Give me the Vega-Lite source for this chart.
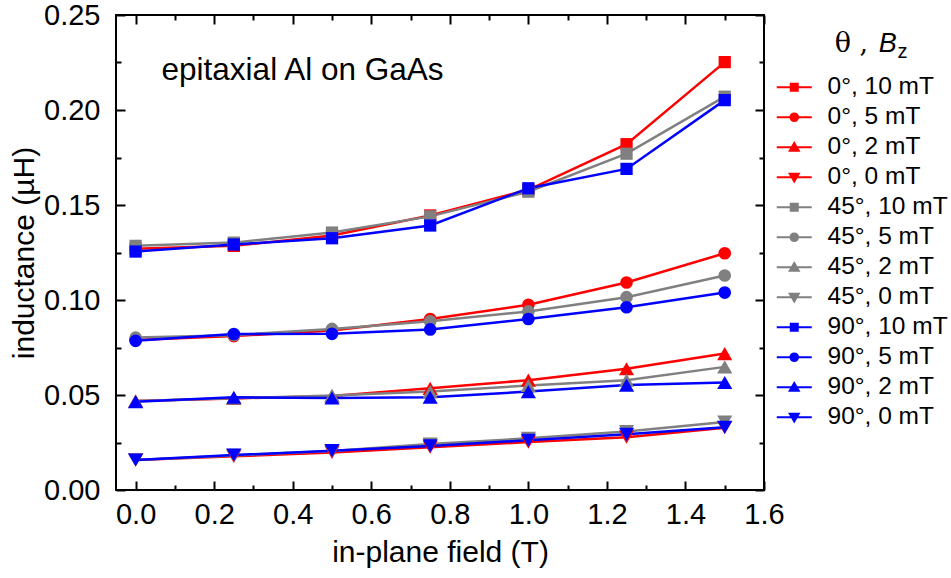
{
  "$schema": "https://vega.github.io/schema/vega-lite/v6.json",
  "width": 648,
  "height": 475,
  "autosize": {"type": "none"},
  "padding": {"left": 116, "top": 15, "right": 187, "bottom": 88},
  "background": "white",
  "datasets": {
    "d": [
      {"s": "0°, 10 mT", "f": 0, "L": 0.127}, {"s": "0°, 10 mT", "f": 0.25, "L": 0.1285}, {"s": "0°, 10 mT", "f": 0.5, "L": 0.134}, {"s": "0°, 10 mT", "f": 0.75, "L": 0.1445}, {"s": "0°, 10 mT", "f": 1.0, "L": 0.158}, {"s": "0°, 10 mT", "f": 1.25, "L": 0.182}, {"s": "0°, 10 mT", "f": 1.5, "L": 0.2252},
      {"s": "0°, 5 mT", "f": 0, "L": 0.079}, {"s": "0°, 5 mT", "f": 0.25, "L": 0.081}, {"s": "0°, 5 mT", "f": 0.5, "L": 0.084}, {"s": "0°, 5 mT", "f": 0.75, "L": 0.090}, {"s": "0°, 5 mT", "f": 1.0, "L": 0.0975}, {"s": "0°, 5 mT", "f": 1.25, "L": 0.1092}, {"s": "0°, 5 mT", "f": 1.5, "L": 0.1246},
      {"s": "0°, 2 mT", "f": 0, "L": 0.0468}, {"s": "0°, 2 mT", "f": 0.25, "L": 0.0482}, {"s": "0°, 2 mT", "f": 0.5, "L": 0.0495}, {"s": "0°, 2 mT", "f": 0.75, "L": 0.0535}, {"s": "0°, 2 mT", "f": 1.0, "L": 0.0578}, {"s": "0°, 2 mT", "f": 1.25, "L": 0.0638}, {"s": "0°, 2 mT", "f": 1.5, "L": 0.0718},
      {"s": "0°, 0 mT", "f": 0, "L": 0.0158}, {"s": "0°, 0 mT", "f": 0.25, "L": 0.0177}, {"s": "0°, 0 mT", "f": 0.5, "L": 0.0198}, {"s": "0°, 0 mT", "f": 0.75, "L": 0.0225}, {"s": "0°, 0 mT", "f": 1.0, "L": 0.0252}, {"s": "0°, 0 mT", "f": 1.25, "L": 0.0278}, {"s": "0°, 0 mT", "f": 1.5, "L": 0.0328},
      {"s": "45°, 10 mT", "f": 0, "L": 0.1285}, {"s": "45°, 10 mT", "f": 0.25, "L": 0.1302}, {"s": "45°, 10 mT", "f": 0.5, "L": 0.1355}, {"s": "45°, 10 mT", "f": 0.75, "L": 0.144}, {"s": "45°, 10 mT", "f": 1.0, "L": 0.157}, {"s": "45°, 10 mT", "f": 1.25, "L": 0.177}, {"s": "45°, 10 mT", "f": 1.5, "L": 0.207},
      {"s": "45°, 5 mT", "f": 0, "L": 0.0802}, {"s": "45°, 5 mT", "f": 0.25, "L": 0.0815}, {"s": "45°, 5 mT", "f": 0.5, "L": 0.0848}, {"s": "45°, 5 mT", "f": 0.75, "L": 0.0888}, {"s": "45°, 5 mT", "f": 1.0, "L": 0.094}, {"s": "45°, 5 mT", "f": 1.25, "L": 0.1015}, {"s": "45°, 5 mT", "f": 1.5, "L": 0.1129},
      {"s": "45°, 2 mT", "f": 0, "L": 0.0468}, {"s": "45°, 2 mT", "f": 0.25, "L": 0.0483}, {"s": "45°, 2 mT", "f": 0.5, "L": 0.0498}, {"s": "45°, 2 mT", "f": 0.75, "L": 0.0518}, {"s": "45°, 2 mT", "f": 1.0, "L": 0.055}, {"s": "45°, 2 mT", "f": 1.25, "L": 0.0578}, {"s": "45°, 2 mT", "f": 1.5, "L": 0.0648},
      {"s": "45°, 0 mT", "f": 0, "L": 0.0158}, {"s": "45°, 0 mT", "f": 0.25, "L": 0.0182}, {"s": "45°, 0 mT", "f": 0.5, "L": 0.0205}, {"s": "45°, 0 mT", "f": 0.75, "L": 0.0242}, {"s": "45°, 0 mT", "f": 1.0, "L": 0.0272}, {"s": "45°, 0 mT", "f": 1.25, "L": 0.0308}, {"s": "45°, 0 mT", "f": 1.5, "L": 0.0358},
      {"s": "90°, 10 mT", "f": 0, "L": 0.1255}, {"s": "90°, 10 mT", "f": 0.25, "L": 0.1292}, {"s": "90°, 10 mT", "f": 0.5, "L": 0.1325}, {"s": "90°, 10 mT", "f": 0.75, "L": 0.1392}, {"s": "90°, 10 mT", "f": 1.0, "L": 0.1588}, {"s": "90°, 10 mT", "f": 1.25, "L": 0.169}, {"s": "90°, 10 mT", "f": 1.5, "L": 0.2052},
      {"s": "90°, 5 mT", "f": 0, "L": 0.0785}, {"s": "90°, 5 mT", "f": 0.25, "L": 0.0821}, {"s": "90°, 5 mT", "f": 0.5, "L": 0.0822}, {"s": "90°, 5 mT", "f": 0.75, "L": 0.0845}, {"s": "90°, 5 mT", "f": 1.0, "L": 0.090}, {"s": "90°, 5 mT", "f": 1.25, "L": 0.0962}, {"s": "90°, 5 mT", "f": 1.5, "L": 0.1039},
      {"s": "90°, 2 mT", "f": 0, "L": 0.0465}, {"s": "90°, 2 mT", "f": 0.25, "L": 0.0488}, {"s": "90°, 2 mT", "f": 0.5, "L": 0.0484}, {"s": "90°, 2 mT", "f": 0.75, "L": 0.0488}, {"s": "90°, 2 mT", "f": 1.0, "L": 0.0518}, {"s": "90°, 2 mT", "f": 1.25, "L": 0.0552}, {"s": "90°, 2 mT", "f": 1.5, "L": 0.0566},
      {"s": "90°, 0 mT", "f": 0, "L": 0.0158}, {"s": "90°, 0 mT", "f": 0.25, "L": 0.0184}, {"s": "90°, 0 mT", "f": 0.5, "L": 0.0207}, {"s": "90°, 0 mT", "f": 0.75, "L": 0.0232}, {"s": "90°, 0 mT", "f": 1.0, "L": 0.0262}, {"s": "90°, 0 mT", "f": 1.25, "L": 0.0293}, {"s": "90°, 0 mT", "f": 1.5, "L": 0.0330}
    ]
  },
  "layer": [
    {
      "data": {"name": "d"},
      "mark": {"type": "line", "strokeWidth": 2.5},
      "encoding": {
        "x": {"field": "f", "type": "quantitative", "scale": {"domain": [-0.05, 1.6], "nice": false, "zero": false},
          "axis": {"orient": "bottom", "title": "in-plane field (T)", "values": [0,0.2,0.4,0.6,0.8,1,1.2,1.4,1.6],
            "format": ".1f", "tickSize": 9, "offset": -9, "labelPadding": 10, "titlePadding": 8}},
        "y": {"field": "L", "type": "quantitative", "scale": {"domain": [0, 0.25], "nice": false, "zero": false},
          "axis": {"orient": "left", "title": "inductance (µH)", "values": [0,0.05,0.1,0.15,0.2,0.25],
            "format": ".2f", "tickSize": 9, "offset": -9, "labelPadding": 16, "titlePadding": 4}},
        "color": {"field": "s", "type": "nominal", "sort": null, "legend": null,
          "scale": {"domain": ["0°, 10 mT","0°, 5 mT","0°, 2 mT","0°, 0 mT","45°, 10 mT","45°, 5 mT","45°, 2 mT","45°, 0 mT","90°, 10 mT","90°, 5 mT","90°, 2 mT","90°, 0 mT"],
            "range": ["#ff0000","#ff0000","#ff0000","#ff0000","#808080","#808080","#808080","#808080","#0000ff","#0000ff","#0000ff","#0000ff"]}}
      }
    },
    {
      "data": {"name": "d"},
      "mark": {"type": "point", "filled": true, "opacity": 1},
      "encoding": {
        "x": {"field": "f", "type": "quantitative", "scale": {"domain": [-0.05, 1.6], "nice": false, "zero": false},
          "axis": {"orient": "top", "title": null, "labels": false, "values": [0,0.2,0.4,0.6,0.8,1,1.2,1.4,1.6], "tickSize": 9, "offset": -9}},
        "y": {"field": "L", "type": "quantitative", "scale": {"domain": [0, 0.25], "nice": false, "zero": false},
          "axis": {"orient": "right", "title": null, "labels": false, "values": [0,0.05,0.1,0.15,0.2,0.25], "tickSize": 9, "offset": -9}},
        "color": {"field": "s", "type": "nominal", "sort": null, "legend": null,
          "scale": {"domain": ["0°, 10 mT","0°, 5 mT","0°, 2 mT","0°, 0 mT","45°, 10 mT","45°, 5 mT","45°, 2 mT","45°, 0 mT","90°, 10 mT","90°, 5 mT","90°, 2 mT","90°, 0 mT"],
            "range": ["#ff0000","#ff0000","#ff0000","#ff0000","#808080","#808080","#808080","#808080","#0000ff","#0000ff","#0000ff","#0000ff"]}},
        "shape": {"field": "s", "type": "nominal", "sort": null, "legend": null,
          "scale": {"domain": ["0°, 10 mT","0°, 5 mT","0°, 2 mT","0°, 0 mT","45°, 10 mT","45°, 5 mT","45°, 2 mT","45°, 0 mT","90°, 10 mT","90°, 5 mT","90°, 2 mT","90°, 0 mT"],
            "range": ["square","circle","triangle-up","triangle-down","square","circle","triangle-up","triangle-down","square","circle","triangle-up","triangle-down"]}},
        "size": {"field": "s", "type": "ordinal", "sort": null, "legend": null,
          "scale": {"type": "ordinal", "domain": ["0°, 10 mT","0°, 5 mT","0°, 2 mT","0°, 0 mT","45°, 10 mT","45°, 5 mT","45°, 2 mT","45°, 0 mT","90°, 10 mT","90°, 5 mT","90°, 2 mT","90°, 0 mT"],
            "range": [150,160,230,230,150,160,230,230,150,160,230,230]}}
      }
    },
    {
      "data": {"name": "d"},
      "transform": [{"filter": "false"}],
      "mark": {"type": "point", "filled": true, "opacity": 1, "strokeWidth": 2},
      "encoding": {
        "fill": {"field": "s", "type": "nominal", "sort": null,
          "scale": {"domain": ["0°, 10 mT","0°, 5 mT","0°, 2 mT","0°, 0 mT","45°, 10 mT","45°, 5 mT","45°, 2 mT","45°, 0 mT","90°, 10 mT","90°, 5 mT","90°, 2 mT","90°, 0 mT"],
            "range": ["#ff0000","#ff0000","#ff0000","#ff0000","#808080","#808080","#808080","#808080","#0000ff","#0000ff","#0000ff","#0000ff"]},
          "legend": {"orient": "none", "legendX": 666, "legendY": 60, "title": null, "padding": 0, "rowPadding": 5, "symbolSize": 400, "symbolStrokeWidth": 2, "labelOffset": 21, "labelFontSize": 24.5, "labelFont": "Liberation Sans", "labelColor": "black", "symbolLimit": 20}},
        "stroke": {"field": "s", "type": "nominal", "sort": null,
          "scale": {"domain": ["0°, 10 mT","0°, 5 mT","0°, 2 mT","0°, 0 mT","45°, 10 mT","45°, 5 mT","45°, 2 mT","45°, 0 mT","90°, 10 mT","90°, 5 mT","90°, 2 mT","90°, 0 mT"],
            "range": ["#ff0000","#ff0000","#ff0000","#ff0000","#808080","#808080","#808080","#808080","#0000ff","#0000ff","#0000ff","#0000ff"]},
          "legend": {"orient": "none", "legendX": 666, "legendY": 60, "title": null, "padding": 0, "rowPadding": 5, "symbolSize": 400, "symbolStrokeWidth": 2, "labelOffset": 21, "labelFontSize": 24.5, "labelFont": "Liberation Sans", "labelColor": "black", "symbolLimit": 20}},
        "shape": {"field": "s", "type": "nominal", "sort": null,
          "scale": {"domain": ["0°, 10 mT","0°, 5 mT","0°, 2 mT","0°, 0 mT","45°, 10 mT","45°, 5 mT","45°, 2 mT","45°, 0 mT","90°, 10 mT","90°, 5 mT","90°, 2 mT","90°, 0 mT"],
            "range": ["M-1.75,0H1.75M-0.35,-0.35H0.35V0.35H-0.35Z","M-1.75,0H1.75M0.38,0A0.38,0.38,0,1,1,-0.38,0A0.38,0.38,0,1,1,0.38,0Z","M-1.75,0H1.75M0,-0.42L0.45,0.36H-0.45Z","M-1.75,0H1.75M0,0.42L0.45,-0.36H-0.45Z",
                      "M-1.75,0H1.75M-0.35,-0.35H0.35V0.35H-0.35Z","M-1.75,0H1.75M0.38,0A0.38,0.38,0,1,1,-0.38,0A0.38,0.38,0,1,1,0.38,0Z","M-1.75,0H1.75M0,-0.42L0.45,0.36H-0.45Z","M-1.75,0H1.75M0,0.42L0.45,-0.36H-0.45Z",
                      "M-1.75,0H1.75M-0.35,-0.35H0.35V0.35H-0.35Z","M-1.75,0H1.75M0.38,0A0.38,0.38,0,1,1,-0.38,0A0.38,0.38,0,1,1,0.38,0Z","M-1.75,0H1.75M0,-0.42L0.45,0.36H-0.45Z","M-1.75,0H1.75M0,0.42L0.45,-0.36H-0.45Z"]},
          "legend": {"orient": "none", "legendX": 666, "legendY": 60, "title": null, "padding": 0, "rowPadding": 5, "symbolSize": 400, "symbolStrokeWidth": 2, "labelOffset": 21, "labelFontSize": 24.5, "labelFont": "Liberation Sans", "labelColor": "black", "symbolLimit": 20}}
      }
    },
    {
      "data": {"values": [{"t": "epitaxial Al on GaAs", "f": 0.066, "L": 0.2159}]},
      "mark": {"type": "text", "align": "left", "baseline": "alphabetic", "fontSize": 31.5, "font": "Liberation Sans", "color": "black"},
      "encoding": {
        "x": {"field": "f", "type": "quantitative", "scale": {"domain": [-0.05, 1.6], "nice": false, "zero": false},
          "axis": {"orient": "bottom", "title": null, "labels": false, "values": [0.1,0.3,0.5,0.7,0.9,1.1,1.3,1.5], "tickSize": 5, "offset": -5}},
        "y": {"field": "L", "type": "quantitative", "scale": {"domain": [0, 0.25], "nice": false, "zero": false},
          "axis": {"orient": "left", "title": null, "labels": false, "values": [0.025,0.075,0.125,0.175,0.225], "tickSize": 5, "offset": -5}},
        "text": {"field": "t"}
      }
    },
    {
      "data": {"values": [{"t": "θ ,", "f": 1.78, "L": 0.2303}]},
      "mark": {"type": "text", "align": "left", "baseline": "alphabetic", "fontSize": 27, "font": "DejaVu Serif", "color": "black"},
      "encoding": {
        "x": {"field": "f", "type": "quantitative", "scale": {"domain": [-0.05, 1.6], "nice": false, "zero": false},
          "axis": {"orient": "top", "title": null, "labels": false, "values": [0.1,0.3,0.5,0.7,0.9,1.1,1.3,1.5], "tickSize": 5, "offset": -5}},
        "y": {"field": "L", "type": "quantitative", "scale": {"domain": [0, 0.25], "nice": false, "zero": false},
          "axis": {"orient": "right", "title": null, "labels": false, "values": [0.025,0.075,0.125,0.175,0.225], "tickSize": 5, "offset": -5}},
        "text": {"field": "t"}
      }
    },
    {
      "data": {"values": [{"t": "B", "f": 1.892, "L": 0.2303}]},
      "mark": {"type": "text", "align": "left", "baseline": "alphabetic", "fontSize": 27, "fontStyle": "italic", "font": "Liberation Sans", "color": "black"},
      "encoding": {
        "x": {"field": "f", "type": "quantitative", "scale": {"domain": [-0.05, 1.6], "nice": false, "zero": false}, "axis": null},
        "y": {"field": "L", "type": "quantitative", "scale": {"domain": [0, 0.25], "nice": false, "zero": false}, "axis": null},
        "text": {"field": "t"}
      }
    },
    {
      "data": {"values": [{"t": "z", "f": 1.940, "L": 0.2273}]},
      "mark": {"type": "text", "align": "left", "baseline": "alphabetic", "fontSize": 20, "font": "Liberation Sans", "color": "black"},
      "encoding": {
        "x": {"field": "f", "type": "quantitative", "scale": {"domain": [-0.05, 1.6], "nice": false, "zero": false}, "axis": null},
        "y": {"field": "L", "type": "quantitative", "scale": {"domain": [0, 0.25], "nice": false, "zero": false}, "axis": null},
        "text": {"field": "t"}
      }
    }
  ],
  "resolve": {
    "axis": {"x": "independent", "y": "independent"},
    "scale": {"color": "independent", "shape": "independent", "size": "independent", "fill": "independent", "stroke": "independent"}
  },
  "config": {
    "font": "Liberation Sans",
    "view": {"stroke": "black", "strokeWidth": 2},
    "axis": {
      "domain": false, "grid": false, "labelFont": "Liberation Sans", "titleFont": "Liberation Sans",
      "labelFontSize": 29, "titleFontSize": 30, "labelColor": "black", "titleColor": "black", "titleFontWeight": "normal",
      "tickColor": "black", "tickWidth": 2, "labelOverlap": false, "labelFlush": false, "labelBound": false
    }
  }
}
